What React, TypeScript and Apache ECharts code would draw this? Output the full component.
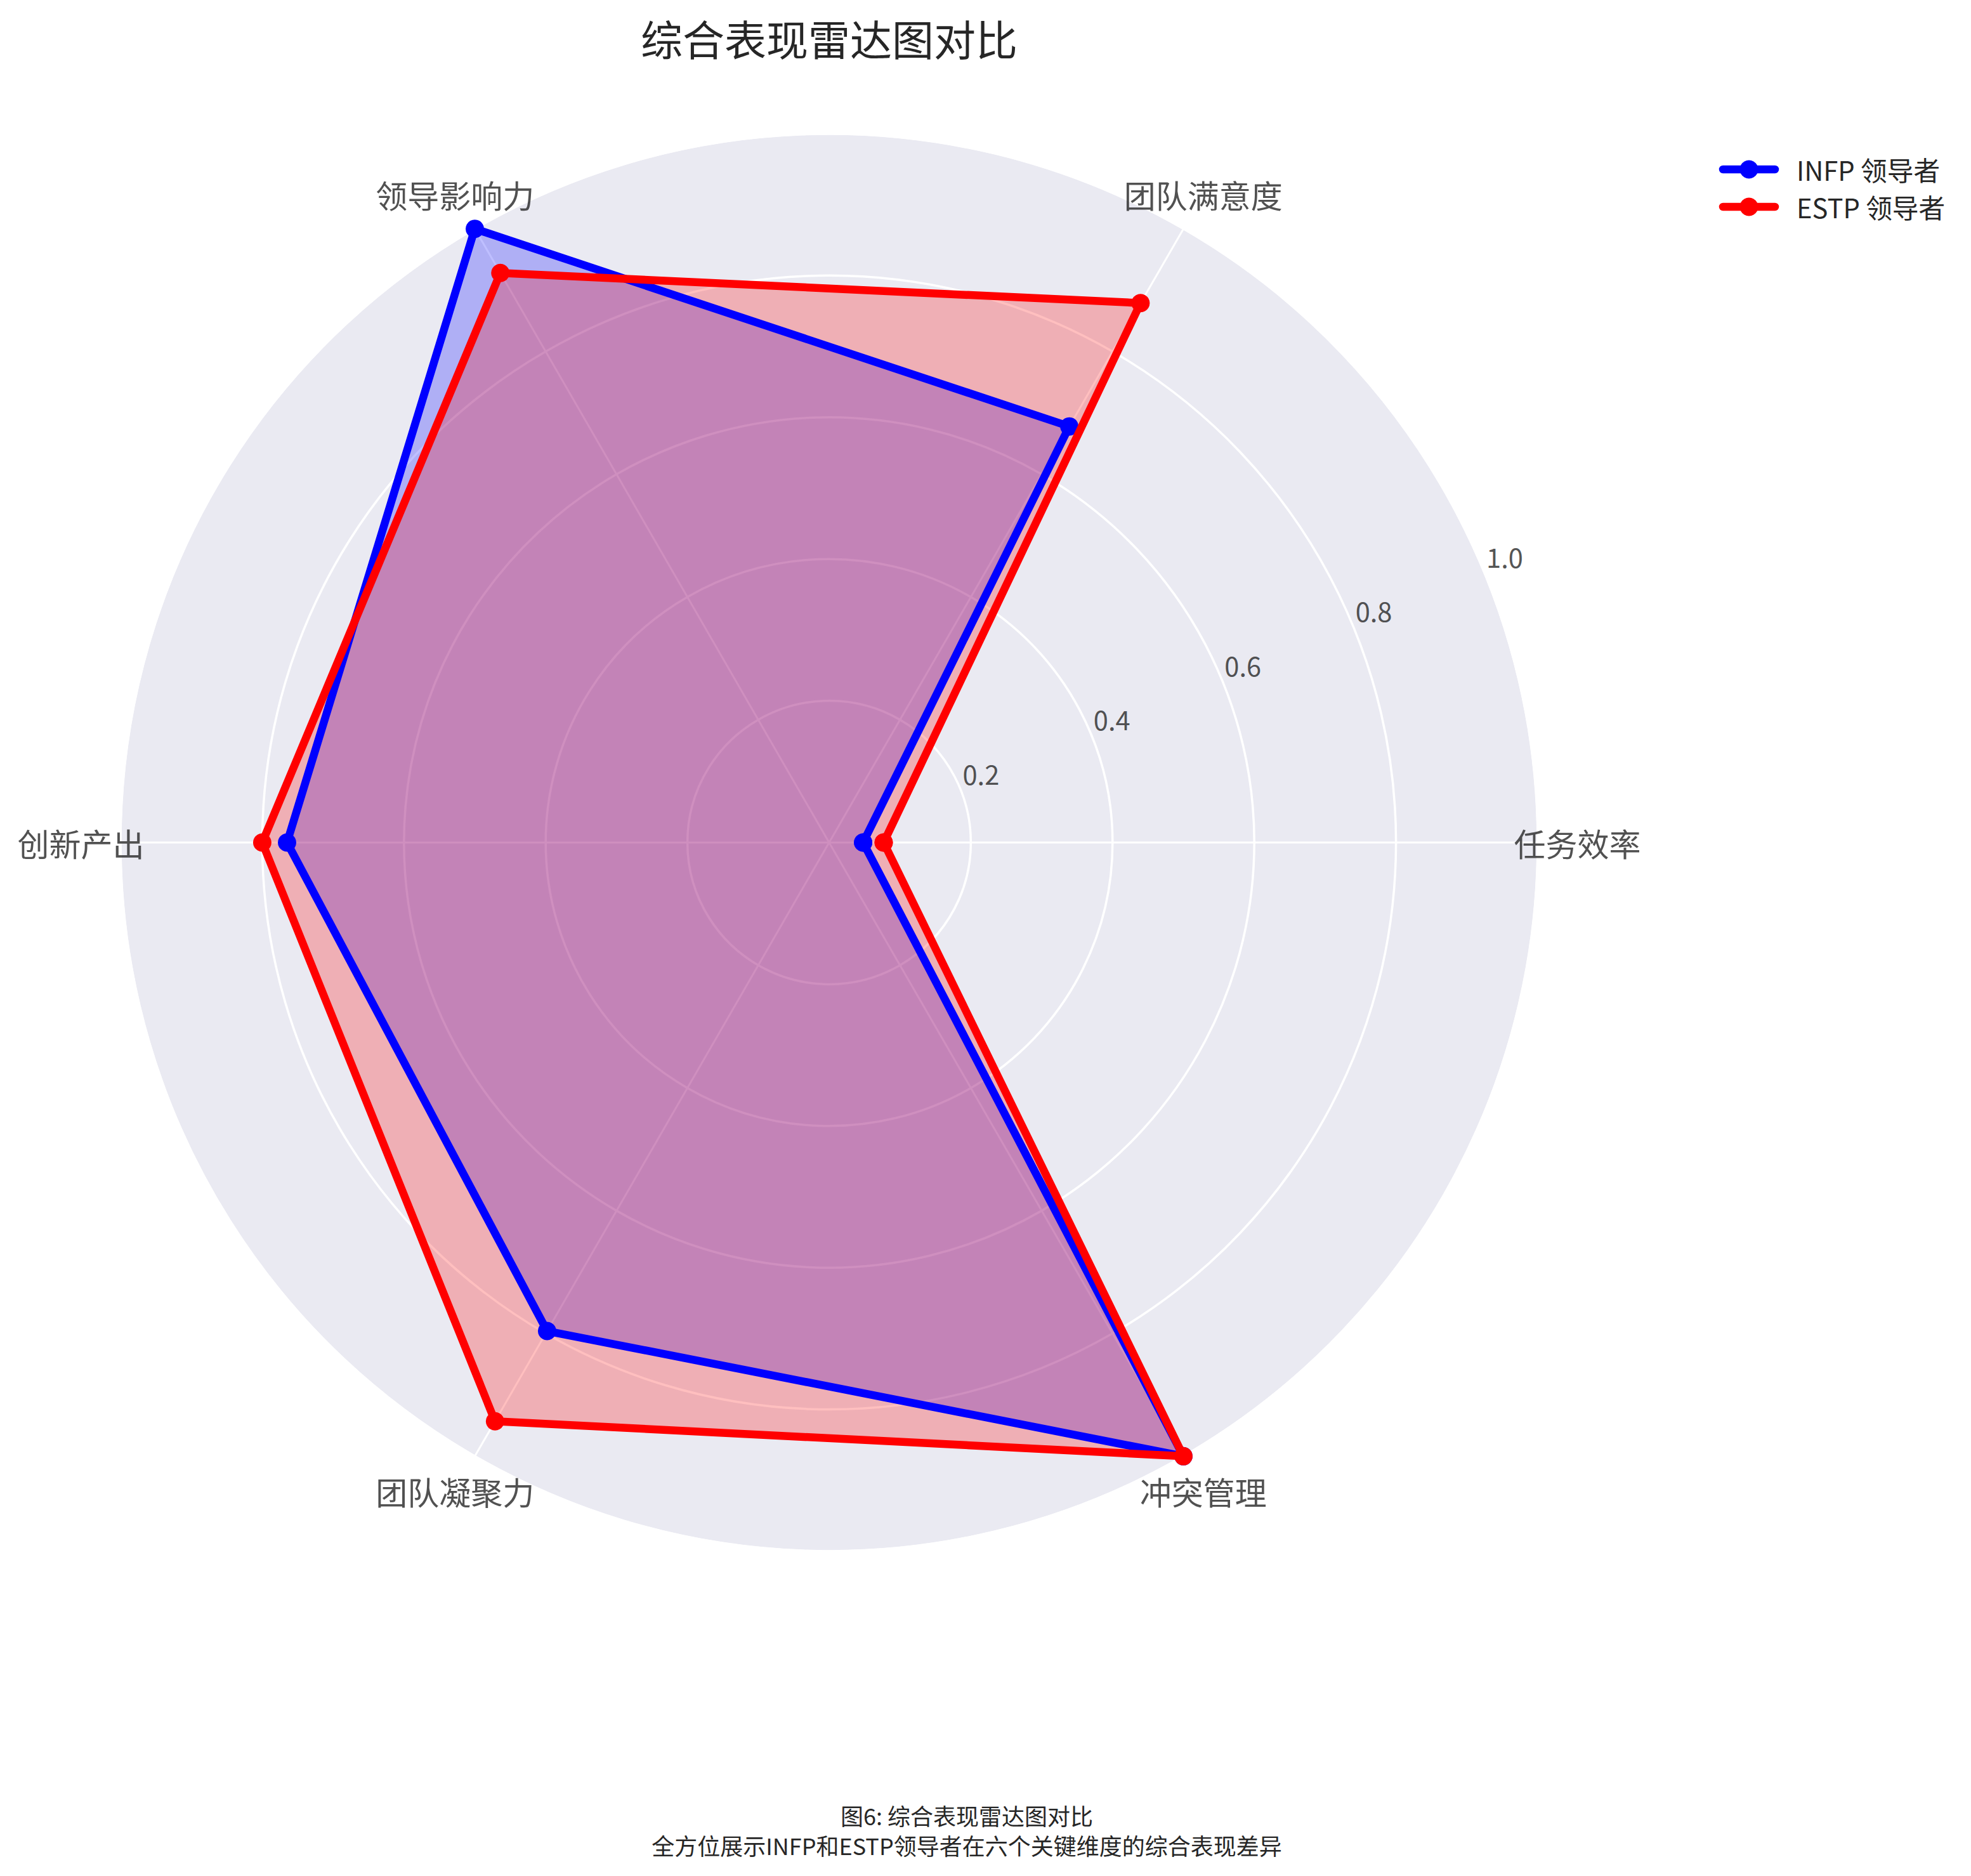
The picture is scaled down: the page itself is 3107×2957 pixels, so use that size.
import React, { useEffect, useRef } from 'react';
import * as echarts from 'echarts';

const categories = ['任务效率', '团队满意度', '领导影响力', '创新产出', '团队凝聚力', '冲突管理'];
const seriesNames = ['INFP 领导者', 'ESTP 领导者'];
const infpValues = [0.048, 0.678, 1.0, 0.765, 0.796, 1.0];
const estpValues = [0.077, 0.879, 0.928, 0.8, 0.943, 1.0];
const radialTicks = [0.2, 0.4, 0.6, 0.8, 1.0];
const tickLabels = ['0.2', '0.4', '0.6', '0.8', '1.0'];
const titleText = '综合表现雷达图对比';
const captionLines = ['图6: 综合表现雷达图对比', '全方位展示INFP和ESTP领导者在六个关键维度的综合表现差异'];

const FONT = "'Noto Sans CJK SC', 'Noto Sans', sans-serif";
const TEXT_COLOR = '#262626';
const CX = 1307;
const CY = 1328;
const R = 1117;
const LABEL_R = 1.056;
const TICK_ANGLE = 22.5;
const COLORS = ['#0000ff', '#ff0000'];
const FILLS = ['rgba(0,0,255,0.25)', 'rgba(255,0,0,0.25)'];

function closedData(values: number[]) {
  const step = 360 / values.length;
  const pts = values.map((v, i) => [v, i * step]);
  pts.push([values[0], 360]);
  return pts;
}

export default function App() {
  const ref = useRef<HTMLDivElement>(null);
  useEffect(() => {
    document.body.style.margin = '0';
    const chart = echarts.init(ref.current!, null, { renderer: 'svg' });
    const step = 360 / categories.length;
    const valueSets = [infpValues, estpValues];

    const lineSeries = valueSets.map((vals, k) => ({
      type: 'line',
      name: seriesNames[k],
      coordinateSystem: 'polar',
      polarIndex: 0,
      data: closedData(vals),
      z: 4 + k,
      symbol: 'circle',
      symbolSize: 29,
      showSymbol: true,
      lineStyle: { color: COLORS[k], width: 12.5, join: 'round' },
      itemStyle: { color: COLORS[k] },
      silent: true,
    }));
    const areaSeries = valueSets.map((vals, k) => ({
      type: 'line',
      name: seriesNames[k],
      coordinateSystem: 'polar',
      polarIndex: 0,
      data: closedData(vals),
      z: 2 + k,
      showSymbol: false,
      symbol: 'none',
      lineStyle: { width: 0, opacity: 0 },
      areaStyle: { color: FILLS[k], opacity: 1 },
      silent: true,
    }));

    const legendGraphics: any[] = [];
    seriesNames.forEach((name, k) => {
      const y = 267 + k * 59;
      legendGraphics.push({
        type: 'line',
        shape: { x1: 2716, y1: y, x2: 2798, y2: y },
        style: { stroke: COLORS[k], lineWidth: 12.5, lineCap: 'round' },
        silent: true,
      });
      legendGraphics.push({
        type: 'circle',
        shape: { cx: 2757, cy: y, r: 14.5 },
        style: { fill: COLORS[k] },
        silent: true,
      });
      legendGraphics.push({
        type: 'text',
        x: 2832,
        y,
        style: {
          text: name,
          fontSize: 41.7,
          fontFamily: FONT,
          fill: TEXT_COLOR,
          align: 'left',
          verticalAlign: 'middle',
        },
        silent: true,
      });
    });

    const option: any = {
      animation: false,
      backgroundColor: '#ffffff',
      polar: [
        { center: [CX, CY], radius: R },
        { center: [CX, CY], radius: R },
      ],
      angleAxis: [
        {
          polarIndex: 0,
          type: 'value',
          min: 0,
          max: 360,
          interval: step,
          startAngle: 0,
          clockwise: false,
          z: 1,
          axisLine: { show: true, lineStyle: { color: '#ffffff', width: 3 } },
          axisTick: { show: false },
          axisLabel: { show: false },
          splitLine: { show: true, lineStyle: { color: '#ffffff', width: 3 } },
        },
        {
          polarIndex: 1,
          type: 'value',
          min: 0,
          max: 360,
          startAngle: 0,
          clockwise: false,
          z: 0,
          axisLine: { show: false },
          axisTick: { show: false },
          axisLabel: { show: false },
          splitLine: { show: false },
        },
      ],
      radiusAxis: [
        {
          polarIndex: 0,
          type: 'value',
          min: 0,
          max: 1,
          interval: 0.2,
          z: 1,
          axisLine: { show: false },
          axisTick: { show: false },
          axisLabel: { show: false },
          splitLine: { show: true, lineStyle: { color: '#ffffff', width: 3.5 } },
          splitArea: { show: false },
        },
        {
          polarIndex: 1,
          type: 'value',
          min: 0,
          max: 1,
          interval: 0.2,
          z: 0,
          axisLine: { show: false },
          axisTick: { show: false },
          axisLabel: { show: false },
          splitLine: { show: false },
          splitArea: { show: true, areaStyle: { color: ['#EAEAF2'] } },
        },
      ],
      series: [
        ...lineSeries,
        ...areaSeries,
        {
          type: 'scatter',
          coordinateSystem: 'polar',
          polarIndex: 0,
          silent: true,
          clip: false,
          symbolSize: 1,
          itemStyle: { color: 'rgba(0,0,0,0)' },
          z: 6,
          data: categories.map((c, i) => ({ name: c, value: [LABEL_R, i * step] })),
          label: {
            show: true,
            position: 'inside',
            formatter: '{b}',
            fontSize: 50,
            color: TEXT_COLOR,
            fontFamily: FONT,
            align: 'center',
            verticalAlign: 'middle',
          },
        },
        {
          type: 'scatter',
          coordinateSystem: 'polar',
          polarIndex: 0,
          silent: true,
          clip: false,
          symbolSize: 1,
          itemStyle: { color: 'rgba(0,0,0,0)' },
          z: 1,
          data: radialTicks.map((t, i) => ({ name: tickLabels[i], value: [t, TICK_ANGLE] })),
          label: {
            show: true,
            position: 'inside',
            formatter: '{b}',
            offset: [33, -24],
            fontSize: 41.7,
            color: TEXT_COLOR,
            fontFamily: FONT,
            align: 'center',
            verticalAlign: 'middle',
          },
        },
      ],
      graphic: [
        {
          type: 'text',
          x: CX,
          y: 59,
          style: {
            text: titleText,
            fontSize: 66,
            fontFamily: FONT,
            fill: TEXT_COLOR,
            align: 'center',
            verticalAlign: 'middle',
          },
        },
        {
          type: 'text',
          x: 1524,
          y: 2861,
          style: {
            text: captionLines[0],
            fontSize: 36,
            lineHeight: 40,
            fontFamily: FONT,
            fill: TEXT_COLOR,
            align: 'center',
            verticalAlign: 'middle',
          },
        },
        {
          type: 'text',
          x: 1524,
          y: 2908,
          style: {
            text: captionLines[1],
            fontSize: 36,
            lineHeight: 40,
            fontFamily: FONT,
            fill: TEXT_COLOR,
            align: 'center',
            verticalAlign: 'middle',
          },
        },
        ...legendGraphics,
      ],
    };
    chart.setOption(option);
    return () => chart.dispose();
  }, []);
  return <div ref={ref} style={{ width: 3107, height: 2957 }} />;
}
